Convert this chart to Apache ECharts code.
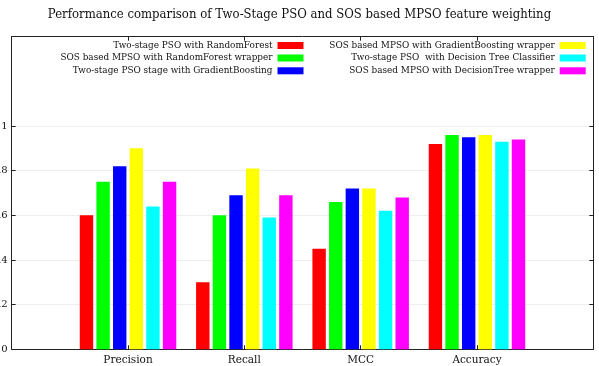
<!DOCTYPE html>
<html>
<head>
<meta charset="utf-8">
<script src="https://cdn.jsdelivr.net/npm/echarts@6/dist/echarts.min.js"></script>
<style>
html,body{margin:0;padding:0;background:#fff;}
#chart{width:599px;height:366px;}
</style>
</head>
<body>
<div id="chart"></div>
<script>
var titleText = 'Performance comparison of Two-Stage PSO and SOS based MPSO feature weighting';
var categories = ['Precision', 'Recall', 'MCC', 'Accuracy'];
var seriesNames = [
  'Two-stage PSO with RandomForest',
  'SOS based MPSO with RandomForest wrapper',
  'Two-stage PSO stage with GradientBoosting',
  'SOS based MPSO with GradientBoosting wrapper',
  'Two-stage PSO  with Decision Tree Classifier',
  'SOS based MPSO with DecisionTree wrapper'
];
var seriesColors = ['#ff0000', '#00ff00', '#0000ff', '#ffff00', '#00ffff', '#ff00ff'];
var twoStageRF = [0.60, 0.30, 0.45, 0.92];
var sosRF = [0.75, 0.60, 0.66, 0.96];
var twoStageGB = [0.82, 0.69, 0.72, 0.95];
var sosGB = [0.90, 0.81, 0.72, 0.96];
var twoStageDT = [0.64, 0.59, 0.62, 0.93];
var sosDT = [0.75, 0.69, 0.68, 0.94];
var yTicks = [0, 0.2, 0.4, 0.6, 0.8, 1];
var xTicks = [1, 2, 3, 4];

var allValues = [twoStageRF, sosRF, twoStageGB, sosGB, twoStageDT, sosDT];
var FONT = 'DejaVu Serif';

var series = allValues.map(function (vals, si) {
  return {
    name: seriesNames[si],
    type: 'bar',
    xAxisIndex: 0,
    yAxisIndex: 0,
    barWidth: 13.4,
    barGap: '24%',
    itemStyle: { color: seriesColors[si] },
    data: vals.map(function (v, i) { return [i + 1, v]; })
  };
});

// legend placement: [right, top]
var legendPos = [
  [295.5, 39.5], [295.5, 52], [295.5, 64.8],
  [13.3, 39.5], [13.3, 52], [13.3, 64.8]
];
var legends = seriesNames.map(function (n, i) {
  return {
    data: [n],
    right: legendPos[i][0],
    top: legendPos[i][1],
    padding: 0,
    align: 'right',
    orient: 'vertical',
    itemWidth: 26,
    itemHeight: 7,
    icon: 'rect',
    selectedMode: false,
    textStyle: { fontFamily: FONT, fontSize: 8.9, color: '#111', lineHeight: 12 }
  };
});

var axisLineStyle = { color: '#222', width: 1 };

var option = {
  animation: false,
  backgroundColor: '#fff',
  title: {
    text: titleText,
    left: 'center',
    top: 8.5,
    padding: 0,
    textStyle: { fontFamily: "'DejaVu Serif Condensed', 'DejaVu Serif'", fontSize: 13, fontWeight: 'normal', color: '#111' }
  },
  legend: legends,
  grid: {
    left: 11.7, right: 5.7, top: 36.7, bottom: 16.7,
    containLabel: false,
    outerBoundsMode: 'none'
  },
  xAxis: [{
    type: 'value', min: 0, max: 5, position: 'bottom',
    axisLine: { show: true, onZero: false, lineStyle: axisLineStyle },
    axisTick: { show: true, inside: true, length: 4, customValues: xTicks, lineStyle: axisLineStyle },
    axisLabel: {
      customValues: xTicks,
      formatter: function (v) { return categories[Math.round(v) - 1] || ''; },
      fontFamily: FONT, fontSize: 10.5, color: '#111', margin: 5
    },
    splitLine: { show: false }
  }, {
    type: 'value', min: 0, max: 5, position: 'top',
    axisLine: { show: true, onZero: false, lineStyle: axisLineStyle },
    axisTick: { show: true, inside: true, length: 4, customValues: xTicks, lineStyle: axisLineStyle },
    axisLabel: { show: false },
    splitLine: { show: false }
  }],
  yAxis: [{
    type: 'value', min: 0, max: 1.4, position: 'left',
    axisLine: { show: true, onZero: false, lineStyle: axisLineStyle },
    axisTick: { show: true, inside: true, length: 4, customValues: yTicks, lineStyle: axisLineStyle },
    axisLabel: {
      customValues: yTicks,
      formatter: function (v) { return String(+v.toFixed(1)); },
      fontFamily: FONT, fontSize: 10, color: '#111', margin: 4
    },
    splitLine: { show: true, lineStyle: { color: '#dcdcdc', type: 'dotted', width: 1 } }
  }, {
    type: 'value', min: 0, max: 1.4, position: 'right',
    axisLine: { show: true, onZero: false, lineStyle: axisLineStyle },
    axisTick: { show: true, inside: true, length: 4, customValues: yTicks, lineStyle: axisLineStyle },
    axisLabel: { show: false },
    splitLine: { show: false }
  }],
  series: series
};

var chart = echarts.init(document.getElementById('chart'), null, { renderer: 'canvas' });
chart.setOption(option);
</script>
</body>
</html>
